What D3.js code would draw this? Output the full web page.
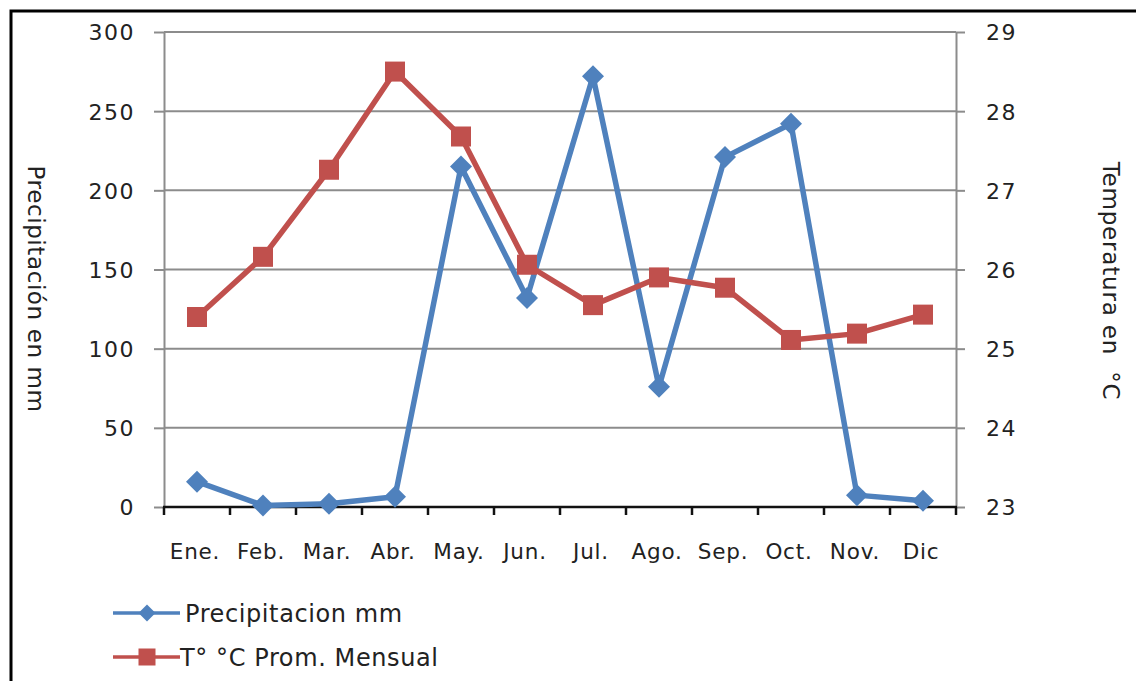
<!DOCTYPE html>
<html>
<head>
<meta charset="utf-8">
<script src="https://cdn.jsdelivr.net/npm/d3@7"></script>
<style>
  html, body { margin: 0; padding: 0; background: #fff; }
  svg { display: block; }
  text { font-family: "DejaVu Sans", Verdana, sans-serif; fill: #222; }
</style>
</head>
<body>
<script>
const months = ["Ene.", "Feb.", "Mar.", "Abr.", "May.", "Jun.", "Jul.", "Ago.", "Sep.", "Oct.", "Nov.", "Dic"];
const precipitation = [16, 1, 2, 6.5, 215, 132, 272, 76, 221, 242, 7.5, 4];
const temperature = [25.40, 26.16, 27.26, 28.50, 27.68, 26.06, 25.55, 25.90, 25.77, 25.11, 25.19, 25.43];
const leftTicks = [0, 50, 100, 150, 200, 250, 300];
const rightTicks = [23, 24, 25, 26, 27, 28, 29];
const seriesNames = ["Precipitacion mm", "T° °C Prom. Mensual"];
const leftTitle = "Precipitación en mm";
const rightTitle = "Temperatura en  °C";

(function () {
const W = 1136, H = 681;
const blue = "#4F81BD", red = "#C0504D", grid = "#8C8C8C";
const pLeft = 164, pRight = 956, pTop = 32, pBottom = 507;
const FONT = '"DejaVu Sans", Verdana, sans-serif';

const svg = d3.select("body").append("svg").attr("width", W).attr("height", H);
svg.append("rect").attr("width", W).attr("height", H).attr("fill", "#fff");

// outer frame (continues past right and bottom edges)
svg.append("rect").attr("x", 11).attr("y", 11).attr("width", 1300).attr("height", 900)
  .attr("fill", "none").attr("stroke", "#000").attr("stroke-width", 3);

const x = d3.scaleBand().domain(months).range([pLeft, pRight]).paddingInner(0).paddingOuter(0);
const yL = d3.scaleLinear().domain([0, 300]).range([pBottom, pTop]);
const yR = d3.scaleLinear().domain([23, 29]).range([pBottom, pTop]);
const cx = m => x(m) + x.bandwidth() / 2;

// gridlines
svg.append("g").selectAll("line").data(leftTicks).join("line")
  .attr("x1", pLeft).attr("x2", pRight)
  .attr("y1", d => yL(d)).attr("y2", d => yL(d))
  .attr("stroke", grid).attr("stroke-width", 2);

// left axis
const gL = svg.append("g").attr("transform", `translate(${pLeft},0)`)
  .call(d3.axisLeft(yL).tickValues(leftTicks).tickSizeOuter(0).tickSizeInner(10).tickPadding(19));
gL.select(".domain").attr("stroke", grid).attr("stroke-width", 2);
gL.selectAll(".tick line").attr("stroke", grid).attr("stroke-width", 2);
gL.selectAll(".tick text").attr("font-size", 22).attr("letter-spacing", 1.5).attr("dy", "0.36em")
  .style("font-family", FONT).attr("fill", "#222");

// right axis
const gR = svg.append("g").attr("transform", `translate(${pRight},0)`)
  .call(d3.axisRight(yR).tickValues(rightTicks).tickFormat(d3.format("d")).tickSizeOuter(0).tickSizeInner(9).tickPadding(21));
gR.select(".domain").attr("stroke", grid).attr("stroke-width", 2);
gR.selectAll(".tick line").attr("stroke", grid).attr("stroke-width", 2);
gR.selectAll(".tick text").attr("font-size", 22).attr("letter-spacing", 1.5).attr("dy", "0.36em")
  .style("font-family", FONT).attr("fill", "#222");

// bottom axis labels
const gB = svg.append("g").attr("transform", `translate(0,${pBottom})`)
  .call(d3.axisBottom(x).tickSize(0).tickPadding(37));
gB.select(".domain").remove();
gB.selectAll(".tick text").attr("font-size", 21.5).attr("letter-spacing", 0.8).attr("dx", "-2")
  .style("font-family", FONT).attr("fill", "#222");

// bottom axis line and ticks at category boundaries
const edges = months.map(m => x(m)).concat([x.range()[1]]);
svg.append("line").attr("x1", pLeft - 1).attr("x2", pRight + 1).attr("y1", pBottom).attr("y2", pBottom)
  .attr("stroke", "#111").attr("stroke-width", 2.5);
svg.append("g").selectAll("line").data(edges).join("line")
  .attr("x1", d => d).attr("x2", d => d).attr("y1", pBottom).attr("y2", pBottom + 8)
  .attr("stroke", "#111").attr("stroke-width", 2.5);

// precipitation series
const lineP = d3.line().x((d, i) => cx(months[i])).y(d => yL(d));
svg.append("path").datum(precipitation).attr("d", lineP)
  .attr("fill", "none").attr("stroke", blue).attr("stroke-width", 5.5).attr("stroke-linejoin", "round");
const diamond = s => `M0,${-s}L${s},0L0,${s}L${-s},0Z`;
svg.append("g").selectAll("path").data(precipitation).join("path")
  .attr("transform", (d, i) => `translate(${cx(months[i])},${yL(d)})`)
  .attr("d", diamond(11)).attr("fill", blue);

// temperature series
const lineT = d3.line().x((d, i) => cx(months[i])).y(d => yR(d));
svg.append("path").datum(temperature).attr("d", lineT)
  .attr("fill", "none").attr("stroke", red).attr("stroke-width", 5.5).attr("stroke-linejoin", "round");
svg.append("g").selectAll("rect").data(temperature).join("rect")
  .attr("x", (d, i) => cx(months[i]) - 10).attr("y", d => yR(d) - 10)
  .attr("width", 20).attr("height", 20).attr("fill", red);

// axis titles
svg.append("text").attr("transform", "translate(28,289) rotate(90)")
  .attr("text-anchor", "middle").attr("font-size", 23).attr("letter-spacing", 0.6)
  .text(leftTitle);
svg.append("text").attr("transform", "translate(1103,281) rotate(90)")
  .attr("text-anchor", "middle").attr("font-size", 23).attr("letter-spacing", 0.8)
  .attr("xml:space", "preserve").style("white-space", "pre")
  .text(rightTitle);

// legend
const legendRows = [
  { name: seriesNames[0], color: blue, y: 613, shape: "diamond" },
  { name: seriesNames[1], color: red, y: 657, shape: "square" }
];
const lg = svg.append("g");
legendRows.forEach(r => {
  lg.append("line").attr("x1", 113).attr("x2", 180).attr("y1", r.y).attr("y2", r.y)
    .attr("stroke", r.color).attr("stroke-width", 3.5);
  if (r.shape === "diamond") {
    lg.append("path").attr("transform", `translate(147,${r.y})`).attr("d", diamond(8.5)).attr("fill", r.color);
  } else {
    lg.append("rect").attr("x", 147 - 8.5).attr("y", r.y - 8.5).attr("width", 17).attr("height", 17).attr("fill", r.color);
  }
  lg.append("text").attr("x", r.shape === "diamond" ? 185 : 180).attr("y", r.y).attr("dy", "0.36em")
    .attr("font-size", 24).attr("letter-spacing", 0.6).text(r.name);
});
})();
</script>
</body>
</html>
